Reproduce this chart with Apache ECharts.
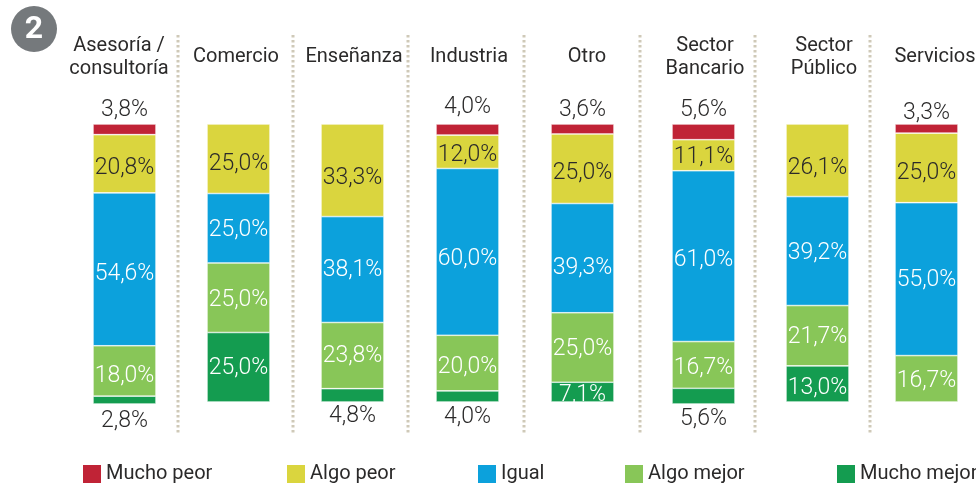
<!DOCTYPE html>
<html><head><meta charset="utf-8">
<script src="https://cdn.jsdelivr.net/npm/echarts@6/dist/echarts.min.js"></script>
<style>html,body{margin:0;padding:0;background:#fff}#c{width:976px;height:489px}</style>
</head><body><div id="c"></div>
<script>
const categories = ['Asesoría /\nconsultoría','Comercio','Enseñanza','Industria','Otro','Sector\nBancario','Sector\nPúblico','Servicios'];
const muchoPeor  = [3.8,null,null,4.0,3.6,5.6,null,3.3];
const algoPeor   = [20.8,25.0,33.3,12.0,25.0,11.1,26.1,25.0];
const igual      = [54.6,25.0,38.1,60.0,39.3,61.0,39.2,55.0];
const algoMejor  = [18.0,25.0,23.8,20.0,25.0,16.7,21.7,16.7];
const muchoMejor = [2.8,25.0,4.8,4.0,7.1,5.6,13.0,null];

// layout only
const barLeft = [93,207,321,436,551,672,786,895];
const barBottom = [404,402,402,402,402,404,402,402];
const titleCenter = [119,236,354,469,587,705,824,935];
const separators = [178,293,408,524,640,755,870];
const labelNudge = [
  [0,0,0,-3,0,0,0,3],
  [4,5,8,3,4,2,8,5],
  [5,2,1,7,10,4,2,1],
  [5,2,1,4,2,3,2,2],
  [4,1,1,2,3,2,4,0]
];
const FONT = 'Roboto,"Liberation Sans",sans-serif';
const DARK = '#2b2a2a';
const defs = [
  {name:'Mucho peor', data:muchoPeor, color:'#c02336', text:DARK},
  {name:'Algo peor', data:algoPeor, color:'#dad53e', text:DARK},
  {name:'Igual', data:igual, color:'#0ca1dc', text:'#fff'},
  {name:'Algo mejor', data:algoMejor, color:'#88c658', text:'#fff'},
  {name:'Mucho mejor', data:muchoMejor, color:'#149c50', text:'#fff'}
];
const legendLeft = [83,287,478,625,837];
const fmt = v => v.toFixed(1).replace('.',',') + '%';

const grid=[],xAxis=[],yAxis=[],series=[];
categories.forEach((c,i)=>{
  grid.push({left:barLeft[i],width:63,top:124,height:barBottom[i]-124,outerBoundsMode:'none'});
  const dx=(titleCenter[i]-(barLeft[i]+31.5))*2;
  xAxis.push({gridIndex:i,type:'category',position:'top',data:[c],
    axisLine:{show:false},axisTick:{show:false},
    axisLabel:{interval:0,margin:67,verticalAlign:'middle',align:'center',
      fontFamily:FONT,fontSize:20,lineHeight:23,color:DARK,
      padding:dx>0?[0,0,0,dx]:[0,-dx,0,0]}});
  yAxis.push({gridIndex:i,type:'value',min:0,max:100,inverse:true,show:false});
  defs.forEach((d,k)=>{
    const v=d.data[i];
    const outside=(k===0)||(k===4&&v!==null&&v<6);
    series.push({
      name:d.name,type:'bar',stack:'s'+i,xAxisIndex:i,yAxisIndex:i,barWidth:'100%',
      data:[v],
      itemStyle:{color:d.color,borderColor:'#fff',borderWidth:0.6},
      label:{show:v!==null,formatter:p=>fmt(p.value),fontFamily:FONT,fontSize:23,fontWeight:300,
        color:outside?DARK:d.text,offset:[0,labelNudge[k][i]],
        position:outside?(k===0?'top':'bottom'):'inside',distance:outside?2:0}
    });
  });
});

const graphic=[
  {type:'circle',shape:{cx:34,cy:29,r:23},style:{fill:'#75797c'}},
  {type:'text',style:{x:34,y:30,text:'2',fill:'#fff',align:'center',verticalAlign:'middle',
    font:'bold 32px Roboto,sans-serif'}}
];
separators.forEach(x=>graphic.push({type:'line',shape:{x1:x,y1:35,x2:x,y2:433},
  style:{stroke:'#cfc9b8',lineWidth:3,lineDash:[2.5,2.5]}}));

const legend=defs.map((d,k)=>({data:[d.name],left:legendLeft[k],top:464,itemWidth:18,itemHeight:18,
  icon:'rect',itemGap:0,padding:0,selectedMode:false,itemStyle:{borderWidth:0},
  textStyle:{fontFamily:FONT,fontSize:20,color:DARK,padding:[2,0,0,0]}}));

echarts.init(document.getElementById('c'),null,{renderer:'canvas'}).setOption({
  animation:false,backgroundColor:'#fff',grid,xAxis,yAxis,series,legend,graphic
});
</script></body></html>
